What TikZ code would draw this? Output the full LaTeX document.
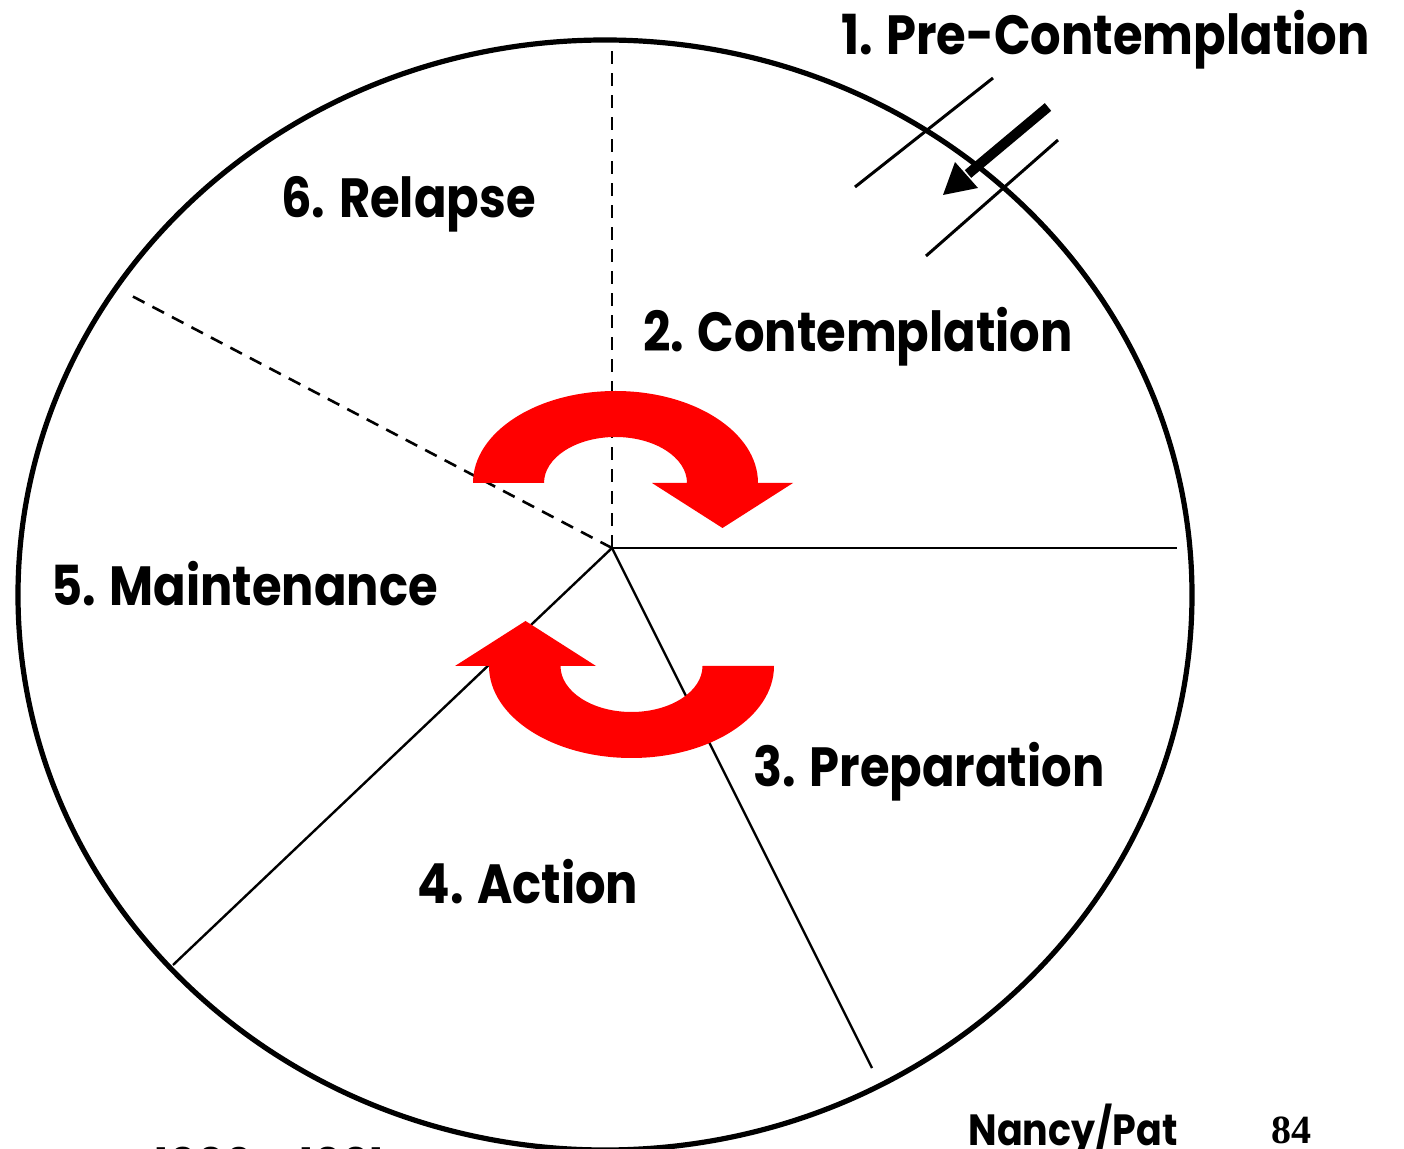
\documentclass[tikz,border=0pt]{standalone}
\usepackage{fontspec}
\usepackage{graphicx}
\newfontfamily\labfont{Poppins}
\newfontfamily\numfont{Liberation Serif}
\newcommand\talltext[1]{\scalebox{1}[1.15]{#1}}
\begin{document}
\begin{tikzpicture}[x=0.5pt,y=-0.5pt,
  lab/.style={font=\labfont\bfseries\fontsize{24}{28}\selectfont, anchor=base, inner sep=0pt},
  small/.style={font=\labfont\bfseries\fontsize{19}{23}\selectfont, anchor=base, inner sep=0pt},
  spoke/.style={line width=1.2pt},
  dspoke/.style={line width=1.3pt, dash pattern=on 6.5pt off 4.5pt},
  tick/.style={line width=1.5pt},
  cyc/.style={fill=red}]
\useasboundingbox (0,0) rectangle (1404,1149);
\clip (0,0) rectangle (1404,1149);
% outer circle
\draw[line width=2.6pt] (605,595) ellipse [x radius=587, y radius=555];
% spokes
\coordinate (c) at (612,548);
\coordinate (top) at (612,40);
\coordinate (ul) at (130,295);
\coordinate (r) at (1177,548);
\coordinate (lr) at (872,1068);
\coordinate (ll) at (173,965);
\draw[dspoke] (c) -- (top);
\draw[dspoke] (c) -- (ul);
\draw[spoke] (c) -- (r);
\draw[spoke] (c) -- (lr);
\draw[spoke] (c) -- (ll);
% pre-contemplation entry
\coordinate (t1a) at (855,187); \coordinate (t1b) at (993,78);
\coordinate (t2a) at (926,256); \coordinate (t2b) at (1058,140);
\draw[tick] (t1a) -- (t1b);
\draw[tick] (t2a) -- (t2b);
\coordinate (as) at (1048,107); \coordinate (ae) at (968,174);
\draw[line width=5pt] (as) -- (ae);
\fill (943,195) -- (955,162) -- (978,188) -- cycle;
% red cycle arrows
\fill[cyc] (473,483) arc[start angle=180, end angle=360, x radius=142.5, y radius=92]
  -- (793,483) -- (722.5,528) -- (652,483) -- (687,483)
  arc[start angle=360, end angle=180, x radius=71.5, y radius=46] -- cycle;
\fill[cyc] (774,666) arc[start angle=0, end angle=180, x radius=142.5, y radius=92]
  -- (455,666) -- (525.5,621) -- (596,666) -- (560.5,666)
  arc[start angle=180, end angle=0, x radius=71, y radius=46] -- cycle;
% labels
\node[lab] (n1) at (1105.5,55) {\talltext{1. Pre-Contemplation}};
\node[lab] (n6) at (408.5,218) {\talltext{6. Relapse}};
\node[lab] (n2) at (858,352) {\talltext{2. Contemplation}};
\node[lab] (n5) at (244.5,606) {\talltext{5. Maintenance}};
\node[lab] (n3) at (929,787) {\talltext{3. Preparation}};
\node[lab] (n4) at (528,903) {\talltext{4. Action}};
\node[small] (np) at (1073,1145) {\talltext{Nancy/Pat}};
\node[font=\numfont\bfseries\fontsize{20}{24}\selectfont, anchor=base, inner sep=0pt] (pg) at (1291,1143) {84};
\node[small, font=\labfont\fontsize{22}{26}\selectfont] (yr) at (270,1179) {1990 - 1991};
\end{tikzpicture}
\end{document}
